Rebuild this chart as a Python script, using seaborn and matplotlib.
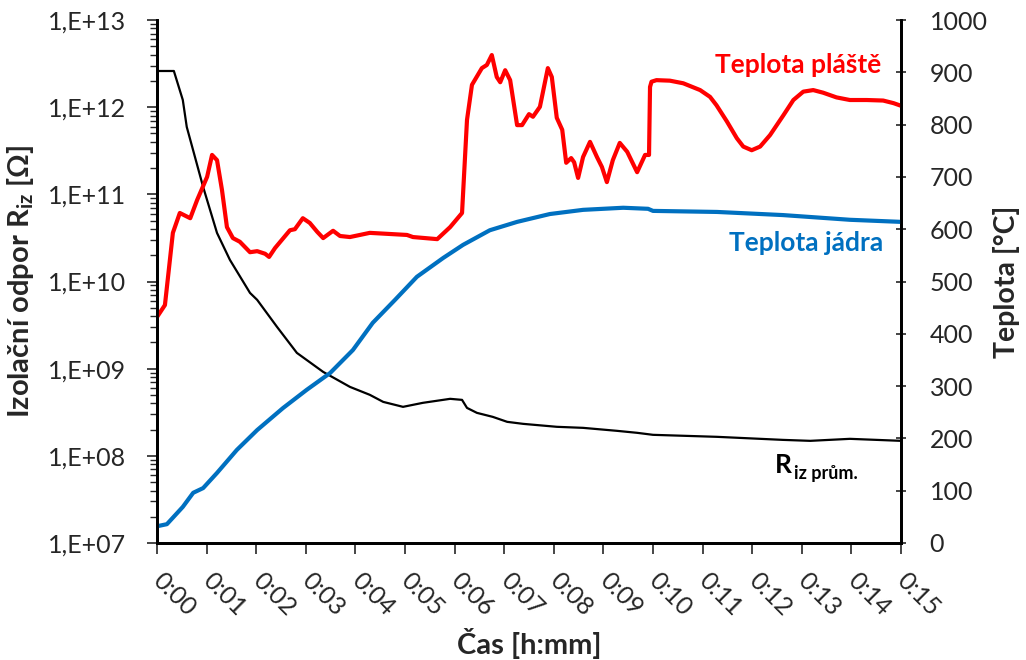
import numpy as np
import pandas as pd
import matplotlib
matplotlib.use("Agg")
import matplotlib.pyplot as plt
import matplotlib.ticker as mticker
import seaborn as sns

# ---- data (time in minutes) ----
r_time = [0.0, 0.34, 0.52, 0.60, 0.71, 0.93, 1.21, 1.47, 1.875, 2.02, 2.42, 2.82, 3.35, 3.89,
          4.29, 4.56, 4.96, 5.36, 5.91, 6.15, 6.25, 6.45, 6.77, 7.06, 7.38, 8.06, 8.59, 9.27,
          9.68, 10.0, 11.29, 12.62, 13.17, 13.97, 15.0]
r_log = [12.415, 12.415, 12.083, 11.773, 11.544, 11.085, 10.557, 10.248, 9.869, 9.789, 9.479,
         9.181, 8.963, 8.791, 8.700, 8.619, 8.562, 8.608, 8.654, 8.642, 8.550, 8.493, 8.447,
         8.390, 8.367, 8.333, 8.321, 8.287, 8.264, 8.241, 8.218, 8.183, 8.172, 8.195, 8.172]
r_values = [10 ** v for v in r_log]

core_time = [0.0, 0.2, 0.52, 0.73, 0.93, 1.21, 1.61, 2.02, 2.54, 3.02, 3.49, 3.95, 4.35, 4.80,
             5.24, 5.77, 6.17, 6.71, 7.26, 7.92, 8.59, 9.40, 9.90, 10.0, 11.29, 12.62, 13.97, 15.0]
core_temp = [32, 36, 69, 96, 105, 134, 178, 216, 258, 293, 325, 369, 421, 465,
             509, 545, 570, 598, 614, 629, 637, 641, 639, 635, 633, 627, 618, 614]

shell_time = [0.0, 0.16, 0.32, 0.46, 0.67, 0.81, 1.01, 1.11, 1.21, 1.31, 1.41, 1.53, 1.67, 1.875,
              2.02, 2.18, 2.26, 2.38, 2.68, 2.78, 2.94, 3.08, 3.23, 3.35, 3.55, 3.69, 3.89, 4.29,
              5.04, 5.16, 5.65, 5.91, 6.15, 6.25, 6.35, 6.55, 6.65, 6.75, 6.85, 6.92, 7.02, 7.12,
              7.26, 7.36, 7.50, 7.58, 7.72, 7.88, 7.96, 8.06, 8.17, 8.25, 8.35, 8.41, 8.49, 8.59,
              8.73, 8.87, 8.97, 9.07, 9.19, 9.33, 9.48, 9.68, 9.84, 9.92,
              9.94, 9.97, 10.07, 10.34, 10.61, 10.95, 11.15, 11.28, 11.49, 11.69, 11.82, 11.99,
              12.16, 12.36, 12.63, 12.83, 13.03, 13.23, 13.43, 13.70, 13.97, 14.31, 14.64,
              14.85, 15.0]
shell_temp = [432, 455, 593, 631, 621, 656, 700, 742, 732, 675, 604, 583, 576, 556,
              558, 553, 547, 564, 598, 600, 621, 612, 595, 583, 597, 587, 585, 593,
              589, 585, 581, 604, 631, 809, 876, 908, 914, 933, 891, 881, 904, 885,
              799, 799, 820, 815, 834, 908, 891, 813, 790, 727, 736, 728, 698, 738,
              767, 738, 719, 690, 732, 765, 748, 709, 742, 742,
              872, 882, 885, 884, 879, 866, 853, 837, 806, 774, 758, 751,
              758, 780, 818, 847, 863, 866, 861, 852, 847, 847, 846,
              841, 836]

x_labels = [f"0:{m:02d}" for m in range(16)]

FONT = ["Lato", "DejaVu Sans"]
sns.set_theme(style="white")
plt.rcParams["font.family"] = FONT
plt.rcParams["mathtext.fontset"] = "custom"
plt.rcParams["mathtext.bf"] = "Lato:bold"
plt.rcParams["mathtext.rm"] = "Lato"
plt.rcParams["mathtext.it"] = "Lato:italic"

fig = plt.figure(figsize=(10.26, 6.6), dpi=100)
ax = fig.add_axes([157 / 1026, 1 - 543 / 660, (901 - 157) / 1026, (543 - 20) / 660])
ax2 = ax.twinx()

df_r = pd.DataFrame({"t": r_time, "R": r_values})
df_c = pd.DataFrame({"t": core_time, "T": core_temp})
df_s = pd.DataFrame({"t": shell_time, "T": shell_temp})

sns.lineplot(data=df_r, x="t", y="R", ax=ax, color="black", linewidth=1.6,
             sort=False, estimator=None)
sns.lineplot(data=df_c, x="t", y="T", ax=ax2, color="#0070C0", linewidth=3,
             sort=False, estimator=None)
sns.lineplot(data=df_s, x="t", y="T", ax=ax2, color="#FF0000", linewidth=3,
             sort=False, estimator=None)

ax.set_yscale("log")
ax.set_ylim(1e7, 1e13)
ax.set_xlim(0, 15)
ax2.set_ylim(0, 1000)

ax.yaxis.set_major_locator(mticker.LogLocator(base=10, numticks=20))
ax.yaxis.set_minor_locator(mticker.LogLocator(base=10, subs=np.arange(2, 10), numticks=20))
ax.yaxis.set_minor_formatter(mticker.NullFormatter())
ax.yaxis.set_major_formatter(mticker.FuncFormatter(lambda v, p: f"1,E+{int(round(np.log10(v))):02d}"))

ax.set_xticks(range(16))
ax.set_xticklabels(x_labels, rotation=-45, ha="left", va="center", rotation_mode="anchor")
ax2.set_yticks(range(0, 1001, 100))

for a in (ax, ax2):
    a.spines["top"].set_visible(False)
    for s in ("left", "right", "bottom"):
        a.spines[s].set_linewidth(2)
        a.spines[s].set_color("black")
    a.grid(False)

ax.tick_params(axis="y", which="major", direction="out", length=7, width=1.2, labelsize=18, pad=15, left=True)
ax.tick_params(axis="y", which="minor", direction="out", length=5, width=1.0, left=True)
ax.tick_params(axis="x", which="major", direction="out", length=8, width=1.2, labelsize=18, pad=16, bottom=True)
ax2.tick_params(axis="y", which="major", direction="inout", length=7, width=1.2, labelsize=18, pad=17, right=True)

ax.set_xlabel("Čas [h:mm]", fontsize=21, fontweight="bold")
ax.set_ylabel("Izolační odpor R$_{\\mathbf{iz}}$ [Ω]", fontsize=21, fontweight="bold")
ax2.set_ylabel("Teplota [°C]", fontsize=20.5, fontweight="bold")
ax.xaxis.set_label_coords(0.5, -0.163)
ax.yaxis.set_label_coords(-0.163, 0.5)
ax2.yaxis.set_label_coords(1.124, 0.5)

ax2.text(0.974, 0.914, "Teplota pláště", transform=ax2.transAxes, color="#FF0000",
         fontsize=19, fontweight="bold", ha="right", va="center")
ax2.text(0.976, 0.574, "Teplota jádra", transform=ax2.transAxes, color="#0070C0",
         fontsize=19, fontweight="bold", ha="right", va="center")
ax2.text(0.831, 0.150, "R", transform=ax2.transAxes, color="black",
         fontsize=19, fontweight="bold", ha="left", va="center")
ax2.text(0.856, 0.132, "iz prům.", transform=ax2.transAxes, color="black",
         fontsize=13, fontweight="bold", ha="left", va="center")

fig.savefig("out.png", dpi=100)
